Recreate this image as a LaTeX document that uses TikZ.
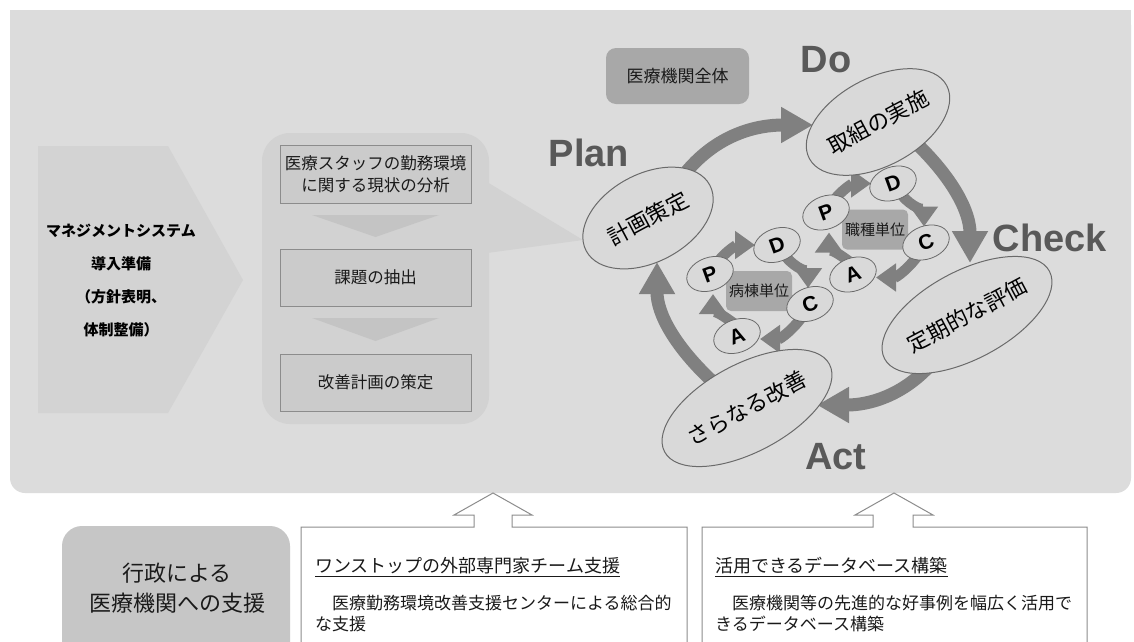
\documentclass[tikz,border=0pt]{standalone}
\usepackage{fontspec}
\setmainfont{Liberation Sans}
\newfontfamily\jp{Noto Sans CJK JP}
\usetikzlibrary{shapes.geometric,arrows.meta,calc}
\definecolor{panelbg}{HTML}{DCDCDC}
\definecolor{chev}{HTML}{D3D3D3}
\definecolor{midbg}{HTML}{D2D2D2}
\definecolor{boxfill}{HTML}{CBCBCB}
\definecolor{boxline}{HTML}{8C8C8C}
\definecolor{trifill}{HTML}{C4C4C4}
\definecolor{darkbox}{HTML}{A8A8A8}
\definecolor{arrowgray}{HTML}{808080}
\definecolor{ellfill}{HTML}{D9D9D9}
\definecolor{ellline}{HTML}{6A6A6A}
\definecolor{pdcatext}{HTML}{595959}
\definecolor{govbox}{HTML}{C6C6C6}
\definecolor{hollowline}{HTML}{8C8C8C}
\definecolor{txt}{HTML}{1A1A1A}
\pgfdeclarelayer{back}
\pgfdeclarelayer{mid}
\pgfsetlayers{back,mid,main}
\begin{document}
\begin{tikzpicture}[x=1pt,y=-1pt,
  bigell/.style={ellipse, draw=ellline, line width=1pt, fill=ellfill, minimum width=140pt, minimum height=88pt, inner sep=0pt, rotate=28, text=black, font=\jp\fontsize{22pt}{22pt}\selectfont},
  smallell/.style={ellipse, draw=ellline, line width=0.8pt, fill=ellfill, minimum width=48pt, minimum height=33pt, inner sep=0pt, rotate=20, text=black, font=\bfseries\fontsize{21pt}{21pt}\selectfont},
  bigarrow/.style={draw=arrowgray, line width=13pt, -{Triangle[width=34pt,length=32pt]}},
  smallarrow/.style={draw=arrowgray, line width=10.5pt, -{Triangle[width=27pt,length=20pt]}},
  stepbox/.style={draw=boxline, fill=boxfill, line width=1pt, minimum width=191pt, minimum height=57pt, inner sep=0pt, align=center, text=txt, font=\jp\fontsize{16.5pt}{22pt}\selectfont},
  unitbox/.style={fill=darkbox, rounded corners=5pt, minimum width=66pt, minimum height=40pt, inner sep=0pt, text=txt, font=\jp\fontsize{15pt}{15pt}\selectfont},
  pdca/.style={text=pdcatext, font=\bfseries\fontsize{38pt}{38pt}\selectfont, inner sep=0pt},
  hollow/.style={draw=hollowline, line width=1pt, fill=white},
  bodytext/.style={anchor=west, inner sep=0pt, align=left, text=txt, font=\jp\fontsize{17pt}{21pt}\selectfont},
  titletext/.style={anchor=west, inner sep=0pt, text=txt, font=\jp\fontsize{18pt}{18pt}\selectfont}
]
\useasboundingbox (0,0) rectangle (1134,641);
\clip (0,0) rectangle (1134,641);
\begin{pgfonlayer}{back}
\fill[white] (0,0) rectangle (1134,641);
\fill[panelbg, rounded corners=15pt] (10,10) rectangle (1131,493);
\fill[panelbg] (10,10) rectangle (1131,60);
\fill[chev] (38,146) -- (168,146) -- (243,280) -- (168,413) -- (38,413) -- cycle;
\fill[midbg, rounded corners=28pt] (262,133) rectangle (489,424);
\fill[midbg] (487,182) -- (583,240) -- (487,253) -- cycle;
\fill[trifill] (312,215) -- (439,215) -- (375.5,237) -- cycle;
\fill[trifill] (312,318) -- (439,318) -- (375.5,341) -- cycle;
\end{pgfonlayer}

% left chevron text
\node[align=center, text=black, font=\jp\bfseries\fontsize{15pt}{33pt}\selectfont] (prep) at (121,281) {マネジメントシステム\\導入準備\\（方針表明、\\体制整備）};

% step boxes
\node[stepbox, minimum height=58pt] (s1) at (375.5,174) {医療スタッフの勤務環境\\に関する現状の分析};
\node[stepbox] (s2) at (375.5,277.5) {課題の抽出};
\node[stepbox] (s3) at (375.5,382.5) {改善計画の策定};

% whole organisation box
\node[fill=darkbox, rounded corners=10pt, minimum width=143pt, minimum height=56pt, inner sep=0pt, text=txt, font=\jp\fontsize{17pt}{17pt}\selectfont] (whole) at (677.5,76) {医療機関全体};

% big cycle
\node[bigell] (plan) at (648,218) {計画策定};
\node[bigell] (do) at (878,122) {取組の実施};
\node[bigell] (check) at (967,315) {定期的な評価};
\node[bigell] (act) at (747,408) {さらなる改善};

\begin{pgfonlayer}{mid}
\draw[bigarrow] ($(plan)+(35,-42)$) to[out=52,in=180] ($(do)+(-65,3)$);
\draw[bigarrow] ($(do)+(38,21)$) to[out=-44,in=90] ($(check)+(3,-52)$);
\draw[bigarrow] ($(check)+(-29,41)$) to[out=-128,in=0] ($(act)+(70,-3)$);
\draw[bigarrow] ($(act)+(-34,-26)$) to[out=137,in=-90] ($(plan)+(9,44)$);
\end{pgfonlayer}

% small cycles
\foreach \i/\dx/\dy/\lab in {1/0/0/病棟単位, 2/116/-61.5/職種単位} {
  \node[unitbox] (u\i) at ({759+\dx},{291+\dy}) {\lab};
  \node[smallell] (p\i) at ({710+\dx},{274+\dy}) {P};
  \node[smallell] (d\i) at ({777+\dx},{245+\dy}) {D};
  \node[smallell] (c\i) at ({810+\dx},{304+\dy}) {C};
  \node[smallell] (a\i) at ({737+\dx},{336+\dy}) {A};
  \begin{pgfonlayer}{mid}
  \draw[smallarrow] ($(p\i)+(5,-8)$) to[out=57,in=180] ($(d\i)+(-22,0)$);
  \draw[smallarrow] ($(d\i)+(9,12)$) to[out=-49,in=90] ($(c\i)+(-2,-16)$);
  \draw[smallarrow] ($(c\i)+(-6,10)$) to[out=-124,in=0] ($(a\i)+(23,3)$);
  \draw[smallarrow] ($(a\i)+(-1,-11)$) to[out=143,in=-90] ($(p\i)+(3,20)$);
  \end{pgfonlayer}
}

% PDCA labels
\node[pdca] (lplan) at (589,153) {Plan};
\node[pdca] (ldo) at (826,60) {Do};
\node[pdca] (lcheck) at (1050,238) {Check};
\node[pdca] (lact) at (836,457) {Act};

% bottom: government support
\fill[govbox, rounded corners=20pt] (62,526) rectangle (290,700);
\node[align=center, text=txt, font=\jp\fontsize{22pt}{30pt}\selectfont] (gov) at (177,588) {行政による\\医療機関への支援};

\draw[hollow] (301,660) -- (301,527) -- (474,527) -- (474,515) -- (454,515) -- (493,493) -- (532,515) -- (512,515) -- (512,527) -- (687,527) -- (687,660);
\draw[hollow] (702,660) -- (702,527) -- (873,527) -- (873,515) -- (855,515) -- (894,493) -- (933,515) -- (913,515) -- (913,527) -- (1087,527) -- (1087,660);

\node[titletext] (t1) at (315,567) {\underline{ワンストップの外部専門家チーム支援}};
\node[bodytext] (b1) at (315,613.5) {　医療勤務環境改善支援センターによる総合的\\な支援};
\node[titletext] (t2) at (715,567) {\underline{活用できるデータベース構築}};
\node[bodytext] (b2) at (715,613.5) {　医療機関等の先進的な好事例を幅広く活用で\\きるデータベース構築};
\end{tikzpicture}
\end{document}
